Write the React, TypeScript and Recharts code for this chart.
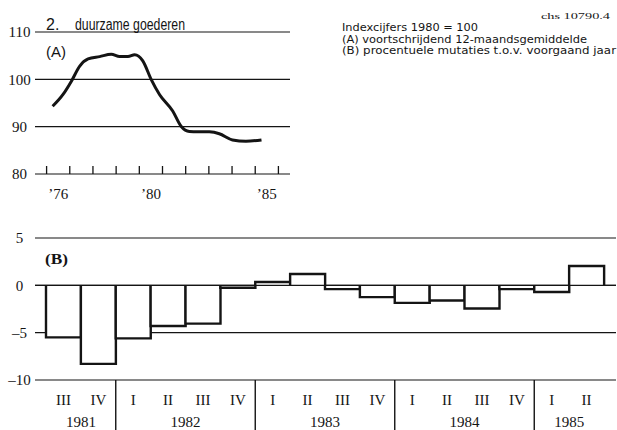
import React from "react";
import {
  LineChart,
  Line,
  BarChart,
  Bar,
  XAxis,
  YAxis,
  CartesianGrid,
  ReferenceLine,
} from "recharts";

// (A) voortschrijdend 12-maandsgemiddelde, index 1980 = 100
const lineYears = [
  1976.26, 1976.71, 1977.07, 1977.43, 1977.79, 1978.29, 1978.79, 1979.15, 1979.51, 1979.8,
  1980.15, 1980.51, 1980.87, 1981.44, 1981.8, 1982.16, 1983.02, 1983.45, 1984.02, 1984.6, 1985.27,
];
const lineIndex = [
  94.3, 96.8, 99.6, 102.8, 104.3, 104.8, 105.3, 104.8, 104.8, 105.2,
  103.9, 100.0, 96.8, 93.3, 90.1, 89.0, 88.9, 88.5, 87.2, 86.9, 87.2,
];
const indexTicks = [80, 90, 100, 110];
const yearTicks = [1976, 1977, 1978, 1979, 1980, 1981, 1982, 1983, 1984, 1985, 1986];
const yearLabelPos = [1976.5, 1980.5, 1985.5];
const yearLabelText = ["\u201976", "\u201980", "\u201985"];

// (B) procentuele mutaties t.o.v. voorgaand jaar, per kwartaal
const quarterLabels = ["III", "IV", "I", "II", "III", "IV", "I", "II", "III", "IV", "I", "II", "III", "IV", "I", "II"];
const quarterChanges = [-5.5, -8.3, -5.6, -4.3, -4.05, -0.25, 0.35, 1.2, -0.4, -1.25, -1.85, -1.6, -2.45, -0.4, -0.7, 2.05];
const changeTicks = [-10, -5, 0, 5];
const yearNames = ["1981", "1982", "1983", "1984", "1985"];
const quartersPerYear = [2, 4, 4, 4, 2];

const lineData = lineYears.map((year, i) => ({ year, value: lineIndex[i] }));
// slot = middle of the quarter on a 0..n scale, used by the year axis
const barData = quarterLabels.map((q, i) => ({ q, v: quarterChanges[i], slot: i + 0.5 }));
const yearStarts = quartersPerYear.map((_, i) => quartersPerYear.slice(0, i).reduce((a, b) => a + b, 0));
const yearCenters = yearStarts.map((s, i) => s + quartersPerYear[i] / 2);
const yearBounds = yearStarts.slice(1);
const quarterCount = quarterLabels.length;

const ink = "#141414";
const serif = "'Liberation Serif', 'Times New Roman', serif";
const sans = "'Liberation Sans', Arial, sans-serif";
const notes = "'DejaVu Sans', sans-serif";
const tickStyle = { fontFamily: serif, fontSize: 15, fill: ink };
const fmtChange = (v: number) => (v < 0 ? `\u2013${Math.abs(v)}` : `${v}`);

function StepBar(props: any) {
  const { x, y, width, height } = props;
  const base = y + height;
  return (
    <path
      d={`M${x},${base}L${x},${y}L${x + width},${y}L${x + width},${base}`}
      fill="#fff"
      stroke={ink}
      strokeWidth={2.4}
    />
  );
}

function IndexChart() {
  return (
    <LineChart width={300} height={212} data={lineData} margin={{ top: 32, right: 10, bottom: 12, left: 0 }}>
      <CartesianGrid xAxisId="lab" vertical={false} stroke={ink} strokeWidth={1.2} />
      <XAxis
        xAxisId="lab"
        type="number"
        dataKey="year"
        domain={[1975.5, 1986.5]}
        allowDataOverflow
        ticks={yearLabelPos}
        interval={0}
        tickFormatter={(v: number) => yearLabelText[yearLabelPos.indexOf(v)] ?? ""}
        axisLine={false}
        tickLine={false}
        tickSize={6}
        tickMargin={8}
        height={26}
        tick={tickStyle}
      />
      <XAxis
        xAxisId="tick"
        type="number"
        dataKey="year"
        domain={[1975.5, 1986.5]}
        allowDataOverflow
        ticks={yearTicks}
        interval={0}
        mirror
        tickSize={8}
        tickFormatter={() => ""}
        axisLine={false}
        tickLine={{ stroke: ink, strokeWidth: 1.3 }}
      />
      <YAxis
        type="number"
        domain={[80, 110]}
        ticks={indexTicks}
        interval={0}
        width={35}
        tickSize={0}
        tickMargin={15.5}
        axisLine={false}
        tickLine={false}
        tick={{ ...tickStyle, textAnchor: "middle" }}
      />
      <Line
        xAxisId="lab"
        dataKey="value"
        type="monotone"
        stroke={ink}
        strokeWidth={3}
        dot={false}
        isAnimationActive={false}
      />
    </LineChart>
  );
}

function ChangeChart() {
  return (
    <BarChart
      width={617}
      height={210}
      data={barData}
      margin={{ top: 18, right: 1, bottom: 0, left: 0 }}
      barCategoryGap={0}
    >
      <CartesianGrid xAxisId="q" vertical={false} stroke={ink} strokeWidth={1.2} />
      <XAxis
        xAxisId="q"
        dataKey="q"
        padding={{ left: 11, right: 12 }}
        interval={0}
        axisLine={false}
        tickLine={false}
        tickSize={6}
        tickMargin={8}
        height={22}
        tick={tickStyle}
      />
      <XAxis
        xAxisId="yr"
        type="number"
        dataKey="slot"
        domain={[0, quarterCount]}
        allowDataOverflow
        padding={{ left: 11, right: 12 }}
        ticks={yearCenters}
        interval={0}
        tickFormatter={(v: number) => yearNames[yearCenters.indexOf(v)] ?? ""}
        axisLine={false}
        tickLine={false}
        tickSize={6}
        tickMargin={8}
        height={28}
        tick={tickStyle}
      />
      <YAxis
        type="number"
        domain={[-10, 5]}
        ticks={changeTicks}
        interval={0}
        width={35}
        tickSize={0}
        tickMargin={15.5}
        axisLine={false}
        tickLine={false}
        tickFormatter={fmtChange}
        tick={{ ...tickStyle, textAnchor: "middle" }}
      />
      <Bar xAxisId="q" dataKey="v" shape={StepBar} isAnimationActive={false} />
      <ReferenceLine xAxisId="q" y={0} stroke={ink} strokeWidth={1.2} />
      {yearBounds.map((b) => (
        <ReferenceLine
          key={b}
          xAxisId="yr"
          segment={[{ x: b, y: -10 }, { x: b, y: -15.6 }]}
          ifOverflow="visible"
          stroke={ink}
          strokeWidth={1.4}
        />
      ))}
    </BarChart>
  );
}

export default function App() {
  return (
    <div style={{ position: "absolute", left: 0, top: 0, width: 617, height: 430, background: "#fff", overflow: "hidden" }}>
      <div style={{ position: "absolute", left: 0, top: 0 }}>
        <IndexChart />
      </div>
      <div style={{ position: "absolute", left: 0, top: 220 }}>
        <ChangeChart />
      </div>
      <svg width={617} height={430} style={{ position: "absolute", left: 0, top: 0, pointerEvents: "none" }}>
        <g fill={ink}>
          <text x={46} y={30} fontFamily={sans} fontSize={16}>2.</text>
          <text x={75} y={30} fontFamily={sans} fontSize={16} textLength={110} lengthAdjust="spacingAndGlyphs">duurzame goederen</text>
          <text x={46} y={57} fontFamily={sans} fontSize={14} textLength={20} lengthAdjust="spacingAndGlyphs">(A)</text>
          <text x={45} y={264} fontFamily={serif} fontSize={14} fontWeight="bold" textLength={23} lengthAdjust="spacingAndGlyphs">(B)</text>
          <text x={541} y={19} fontFamily={serif} fontSize={8} textLength={69} lengthAdjust="spacingAndGlyphs">chs   10790.4</text>
          <text x={342} y={31} fontFamily={notes} fontSize={11} textLength={136} lengthAdjust="spacingAndGlyphs">Indexcijfers 1980 = 100</text>
          <text x={342} y={42.5} fontFamily={notes} fontSize={11} textLength={245} lengthAdjust="spacingAndGlyphs">(A) voortschrijdend 12-maandsgemiddelde</text>
          <text x={342} y={54} fontFamily={notes} fontSize={11} textLength={274} lengthAdjust="spacingAndGlyphs">(B) procentuele mutaties t.o.v. voorgaand jaar</text>
        </g>
      </svg>
    </div>
  );
}
